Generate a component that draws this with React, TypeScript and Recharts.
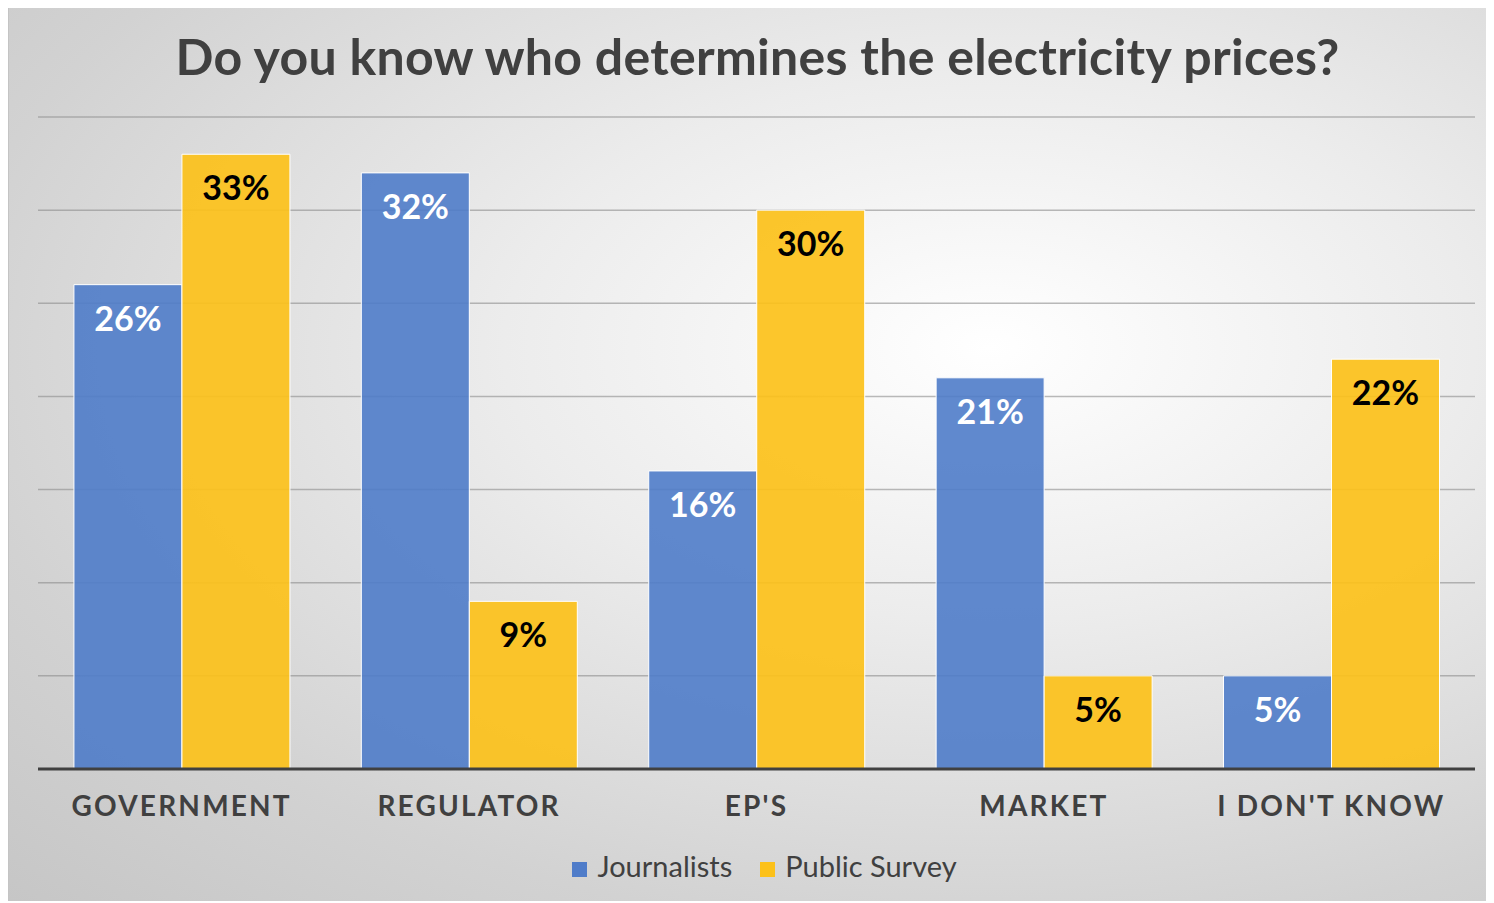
import { Bar, BarChart, CartesianGrid, LabelList, Legend, XAxis, YAxis } from "recharts";

const categories = ["GOVERNMENT", "REGULATOR", "EP'S", "MARKET", "I DON'T KNOW"];
const journalists = [26, 32, 16, 21, 5];
const publicSurvey = [33, 9, 30, 5, 22];
const yTicks = [0, 5, 10, 15, 20, 25, 30, 35];

const data = categories.map((name, i) => ({
  name,
  journalists: journalists[i],
  publicSurvey: publicSurvey[i],
}));

const FONT = "Lato, 'Open Sans', sans-serif";
const pct = (v: any) => `${v}%`;

export default function App() {
  return (
    <div
      style={{
        position: "relative",
        width: 1486,
        height: 895,
        marginTop: -2,
        boxSizing: "border-box",
        borderTop: "2px solid #bdbdbd",
        borderLeft: "1px solid #c4c4c4",
        background: "radial-gradient(ellipse at 66% 38%, #ffffff 0%, #ececec 35%, #d2d2d2 75%, #c6c6c6 100%)",
        fontFamily: FONT,
      }}
    >
      <div
        style={{
          position: "absolute",
          top: 18,
          left: 6,
          width: "100%",
          textAlign: "center",
          fontSize: 50,
          fontWeight: 700,
          letterSpacing: 0.3,
          color: "#404040",
        }}
      >
        Do you know who determines the electricity prices?
      </div>
      <BarChart
        width={1484}
        height={893}
        data={data}
        margin={{ top: 109, right: 18, bottom: 25, left: 29 }}
        barCategoryGap="12.5%"
        barGap={0}
      >
        <CartesianGrid vertical={false} stroke="#8c8c8c" strokeOpacity={0.6} strokeWidth={1.5} />
        <YAxis hide domain={[0, 35]} ticks={yTicks} />
        <XAxis
          dataKey="name"
          axisLine={{ stroke: "#404040", strokeWidth: 3 }}
          tickLine={false}
          height={72}
          tickMargin={21}
          tick={{ fill: "#404040", fontSize: 28, fontWeight: 700, letterSpacing: 2.2, fontFamily: FONT }}
        />
        <Legend
          verticalAlign="bottom"
          align="center"
          iconType="square"
          iconSize={15}
          wrapperStyle={{ fontSize: 29, fontFamily: FONT, bottom: 18, paddingLeft: 22 }}
          formatter={(value) => <span style={{ color: "#404040", marginLeft: 6, marginRight: 18 }}>{value}</span>}
        />
        <Bar
          dataKey="journalists"
          name="Journalists"
          fill="#4f7cc9"
          fillOpacity={0.9}
          stroke="#ffffff"
          strokeWidth={1}
          isAnimationActive={false}
        >
          <LabelList
            dataKey="journalists"
            position="insideTop"
            offset={22}
            formatter={pct}
            style={{ fill: "#ffffff", fontSize: 34, fontWeight: 700, fontFamily: FONT }}
          />
        </Bar>
        <Bar
          dataKey="publicSurvey"
          name="Public Survey"
          fill="#fcc11a"
          fillOpacity={0.92}
          stroke="#ffffff"
          strokeWidth={1}
          isAnimationActive={false}
        >
          <LabelList
            dataKey="publicSurvey"
            position="insideTop"
            offset={22}
            formatter={pct}
            style={{ fill: "#000000", fontSize: 34, fontWeight: 700, fontFamily: FONT }}
          />
        </Bar>
      </BarChart>
    </div>
  );
}
